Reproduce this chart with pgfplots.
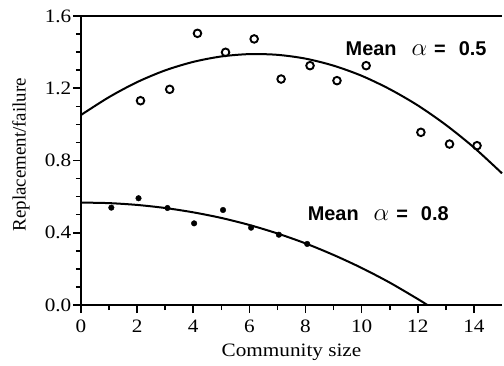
\documentclass[border=0pt]{standalone}
\usepackage{fontspec}
\setmainfont{Liberation Serif}[FakeStretch=1.12]
\newfontfamily\serifplain{Liberation Serif}
\newfontfamily\hv{Liberation Sans}
\usepackage{pgfplots}
\pgfplotsset{compat=1.18}
\newcommand{\annot}[1]{{\hv\bfseries Mean}\hspace{15bp}{\fontsize{23}{23}\selectfont$\alpha$}\hspace{7bp}{\hv\bfseries =}\hspace{13bp}{\hv\bfseries #1}}
\begin{document}
\begin{tikzpicture}
\begin{axis}[
  name=ax, at={(0,0)}, anchor=south west,
  scale only axis, width=421bp, height=289bp,
  xmin=0, xmax=15, ymin=0, ymax=1.6,
  axis x line*=bottom, axis y line*=left,
  axis line style={line width=2bp,-},
  xtick={0,2,4,6,8,10,12,14}, minor xtick={1,3,5,7,9,11,13},
  ytick={0,0.4,0.8,1.2,1.6},
  minor ytick={0.1,0.2,0.3,0.5,0.6,0.7,0.9,1.0,1.1,1.3,1.4,1.5},
  tick align=outside, major tick length=8bp, minor tick length=5bp,
  every tick/.style={line width=1.6bp, black},
  /pgf/number format/assume math mode=true,
  ticklabel style={font=\fontsize{19}{20}\selectfont},
  xticklabel style={inner sep=2bp, yshift=-5bp},
  yticklabel style={inner sep=1.5bp, /pgf/number format/fixed, /pgf/number format/fixed zerofill, /pgf/number format/precision=1},
  xlabel={Community size}, ylabel={\serifplain Replacement/failure},
  label style={font=\fontsize{19}{20}\selectfont},
  xlabel style={at={(axis description cs:0.5,-0.163)}, anchor=center},
  ylabel style={at={(axis description cs:-0.1425,0.52)}, anchor=center, rotate=0},
  clip=false,
]
\draw[line width=2bp] (rel axis cs:0,1) -- (rel axis cs:1,1);
% fitted curve, alpha = 0.5
\addplot[black, line width=2bp, smooth, no marks] coordinates {
 (0,1.052) (1,1.151) (2,1.234) (3,1.299) (4,1.346) (5,1.376) (6,1.389)
 (7,1.385) (8,1.364) (9,1.325) (10,1.269) (11,1.195) (12,1.105)
 (13,0.997) (14,0.872) (15,0.729)};
% fitted curve, alpha = 0.8
\addplot[black, line width=2bp, smooth, no marks] coordinates {
 (0,0.567) (1,0.564) (2,0.554) (3,0.537) (4,0.513) (5,0.482) (6,0.443)
 (7,0.396) (8,0.341) (9,0.277) (10,0.205) (11,0.124) (12,0.033) (12.34,0)};
% observed, alpha = 0.5
\addplot[only marks, mark=o, mark size=3.8bp, mark options={line width=1.9bp, black}] coordinates {
 (2.12,1.131) (3.16,1.194) (4.15,1.504) (5.15,1.399) (6.17,1.473)
 (7.13,1.251) (8.16,1.325) (9.12,1.242) (10.16,1.325)
 (12.11,0.956) (13.13,0.891) (14.11,0.882)};
% observed, alpha = 0.8
\addplot[only marks, mark=*, mark size=2.8bp, mark options={black}] coordinates {
 (1.08,0.539) (2.05,0.591) (3.08,0.537) (4.03,0.452) (5.06,0.526)
 (6.06,0.428) (7.05,0.389) (8.06,0.338)};
\node[font=\fontsize{20}{20}\selectfont, anchor=center] at (axis cs:11.94,1.418) {\annot{0.5}};
\node[font=\fontsize{20}{20}\selectfont, anchor=center] at (axis cs:10.59,0.504) {\annot{0.8}};
\end{axis}
\pgfresetboundingbox
\path (-81bp,-61bp) rectangle (423bp,305bp);
\end{tikzpicture}
\end{document}
